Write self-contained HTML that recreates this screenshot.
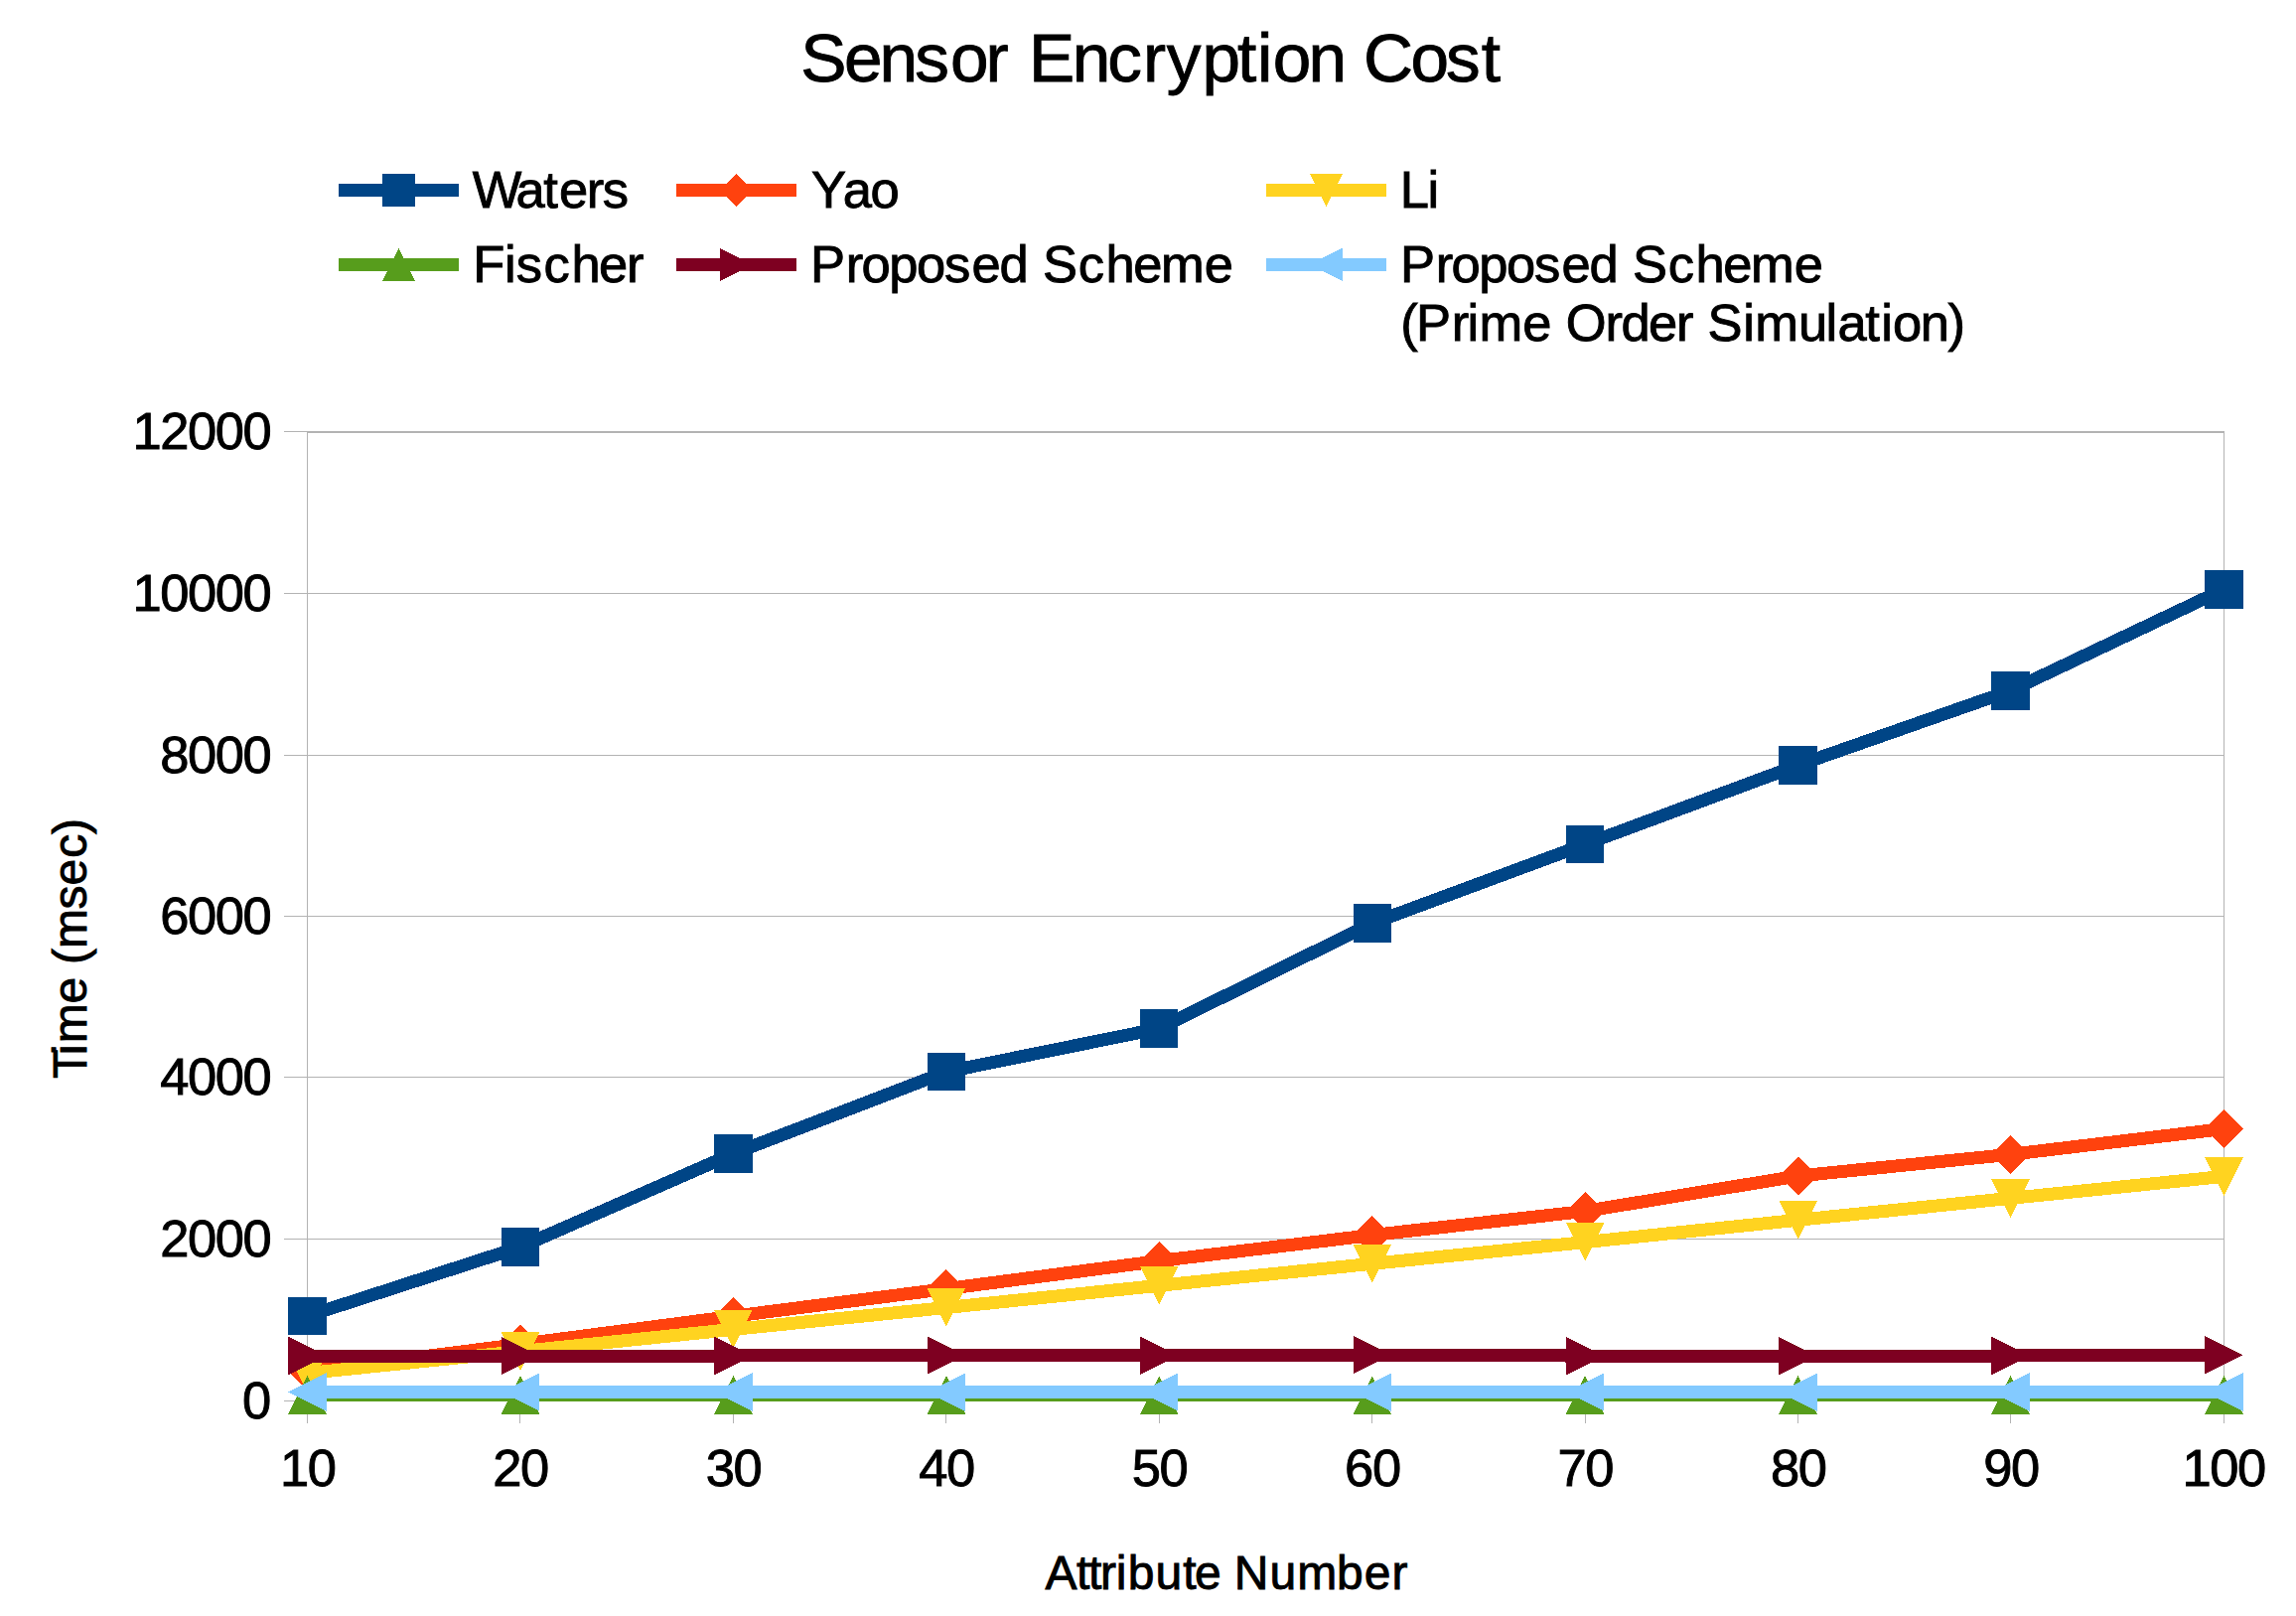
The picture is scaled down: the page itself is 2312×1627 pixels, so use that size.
<!DOCTYPE html>
<html lang="en"><head><meta charset="utf-8"><title>Sensor Encryption Cost</title>
<style>html,body{margin:0;padding:0;background:#fff}body{width:2312px;height:1627px;overflow:hidden}svg{display:block}text{font-family:"Liberation Sans",sans-serif;fill:#000;stroke:#000;stroke-width:0.9px}</style></head><body>
<svg width="2312" height="1627" viewBox="0 0 2312 1627">
<rect width="2312" height="1627" fill="#fff"/>
<g stroke="#b3b3b3" stroke-width="1" fill="none" shape-rendering="crispEdges">
<line x1="286" y1="1410.50" x2="2239.50" y2="1410.50"/>
<line x1="286" y1="1247.50" x2="2239.50" y2="1247.50"/>
<line x1="286" y1="1084.50" x2="2239.50" y2="1084.50"/>
<line x1="286" y1="922.50" x2="2239.50" y2="922.50"/>
<line x1="286" y1="760.50" x2="2239.50" y2="760.50"/>
<line x1="286" y1="597.50" x2="2239.50" y2="597.50"/>
<line x1="286" y1="434.50" x2="2239.50" y2="434.50"/>
<line x1="309.50" y1="435.50" x2="2240.00" y2="435.50"/>
<line x1="309.50" y1="1410.50" x2="309.50" y2="1433"/>
<line x1="523.94" y1="1410.50" x2="523.94" y2="1433"/>
<line x1="738.39" y1="1410.50" x2="738.39" y2="1433"/>
<line x1="952.83" y1="1410.50" x2="952.83" y2="1433"/>
<line x1="1167.28" y1="1410.50" x2="1167.28" y2="1433"/>
<line x1="1381.72" y1="1410.50" x2="1381.72" y2="1433"/>
<line x1="1596.17" y1="1410.50" x2="1596.17" y2="1433"/>
<line x1="1810.61" y1="1410.50" x2="1810.61" y2="1433"/>
<line x1="2024.50" y1="1410.50" x2="2024.50" y2="1433"/>
<line x1="2239.50" y1="1410.50" x2="2239.50" y2="1433"/>
<line x1="309.50" y1="434.50" x2="309.50" y2="1433"/>
<line x1="2239.50" y1="434.50" x2="2239.50" y2="1433"/>
</g>
<g shape-rendering="crispEdges">
<polyline fill="none" stroke="#004586" stroke-width="13.00" stroke-linejoin="round" points="309.50,1325.00 523.94,1255.50 738.39,1161.50 952.83,1079.10 1167.28,1035.50 1381.72,929.50 1596.17,850.10 1810.61,770.40 2024.50,695.40 2239.50,593.30"/>
<polygon fill="#004586" points="290.30,1305.80 328.70,1305.80 328.70,1344.20 290.30,1344.20"/>
<polygon fill="#004586" points="504.74,1236.30 543.14,1236.30 543.14,1274.70 504.74,1274.70"/>
<polygon fill="#004586" points="719.19,1142.30 757.59,1142.30 757.59,1180.70 719.19,1180.70"/>
<polygon fill="#004586" points="933.63,1059.90 972.03,1059.90 972.03,1098.30 933.63,1098.30"/>
<polygon fill="#004586" points="1148.08,1016.30 1186.48,1016.30 1186.48,1054.70 1148.08,1054.70"/>
<polygon fill="#004586" points="1362.52,910.30 1400.92,910.30 1400.92,948.70 1362.52,948.70"/>
<polygon fill="#004586" points="1576.97,830.90 1615.37,830.90 1615.37,869.30 1576.97,869.30"/>
<polygon fill="#004586" points="1791.41,751.20 1829.81,751.20 1829.81,789.60 1791.41,789.60"/>
<polygon fill="#004586" points="2005.30,676.20 2043.70,676.20 2043.70,714.60 2005.30,714.60"/>
<polygon fill="#004586" points="2220.30,574.10 2258.70,574.10 2258.70,612.50 2220.30,612.50"/>
<polyline fill="none" stroke="#ff420e" stroke-width="13.00" stroke-linejoin="round" points="309.50,1380.70 523.94,1353.40 738.39,1325.20 952.83,1297.60 1167.28,1269.50 1381.72,1243.50 1596.17,1219.40 1810.61,1184.00 2024.50,1162.30 2239.50,1136.50"/>
<polygon fill="#ff420e" points="309.50,1361.20 329.00,1380.70 309.50,1400.20 290.00,1380.70"/>
<polygon fill="#ff420e" points="523.94,1333.90 543.44,1353.40 523.94,1372.90 504.44,1353.40"/>
<polygon fill="#ff420e" points="738.39,1305.70 757.89,1325.20 738.39,1344.70 718.89,1325.20"/>
<polygon fill="#ff420e" points="952.83,1278.10 972.33,1297.60 952.83,1317.10 933.33,1297.60"/>
<polygon fill="#ff420e" points="1167.28,1250.00 1186.78,1269.50 1167.28,1289.00 1147.78,1269.50"/>
<polygon fill="#ff420e" points="1381.72,1224.00 1401.22,1243.50 1381.72,1263.00 1362.22,1243.50"/>
<polygon fill="#ff420e" points="1596.17,1199.90 1615.67,1219.40 1596.17,1238.90 1576.67,1219.40"/>
<polygon fill="#ff420e" points="1810.61,1164.50 1830.11,1184.00 1810.61,1203.50 1791.11,1184.00"/>
<polygon fill="#ff420e" points="2024.50,1142.80 2044.00,1162.30 2024.50,1181.80 2005.00,1162.30"/>
<polygon fill="#ff420e" points="2239.50,1117.00 2259.00,1136.50 2239.50,1156.00 2220.00,1136.50"/>
<polyline fill="none" stroke="#ffd320" stroke-width="13.00" stroke-linejoin="round" points="309.50,1382.50 523.94,1360.60 738.39,1338.40 952.83,1316.50 1167.28,1294.30 1381.72,1272.30 1596.17,1250.60 1810.61,1228.30 2024.50,1206.40 2239.50,1184.40"/>
<polygon fill="#ffd320" points="290.30,1363.30 328.70,1363.30 309.50,1401.70"/>
<polygon fill="#ffd320" points="504.74,1341.40 543.14,1341.40 523.94,1379.80"/>
<polygon fill="#ffd320" points="719.19,1319.20 757.59,1319.20 738.39,1357.60"/>
<polygon fill="#ffd320" points="933.63,1297.30 972.03,1297.30 952.83,1335.70"/>
<polygon fill="#ffd320" points="1148.08,1275.10 1186.48,1275.10 1167.28,1313.50"/>
<polygon fill="#ffd320" points="1362.52,1253.10 1400.92,1253.10 1381.72,1291.50"/>
<polygon fill="#ffd320" points="1576.97,1231.40 1615.37,1231.40 1596.17,1269.80"/>
<polygon fill="#ffd320" points="1791.41,1209.10 1829.81,1209.10 1810.61,1247.50"/>
<polygon fill="#ffd320" points="2005.30,1187.20 2043.70,1187.20 2024.50,1225.60"/>
<polygon fill="#ffd320" points="2220.30,1165.20 2258.70,1165.20 2239.50,1203.60"/>
<polyline fill="none" stroke="#579d1c" stroke-width="13.00" stroke-linejoin="round" points="309.50,1404.30 523.94,1404.30 738.39,1404.30 952.83,1404.30 1167.28,1404.30 1381.72,1404.30 1596.17,1404.30 1810.61,1404.30 2024.50,1404.30 2239.50,1404.30"/>
<polygon fill="#579d1c" points="290.30,1423.50 328.70,1423.50 309.50,1385.10"/>
<polygon fill="#579d1c" points="504.74,1423.50 543.14,1423.50 523.94,1385.10"/>
<polygon fill="#579d1c" points="719.19,1423.50 757.59,1423.50 738.39,1385.10"/>
<polygon fill="#579d1c" points="933.63,1423.50 972.03,1423.50 952.83,1385.10"/>
<polygon fill="#579d1c" points="1148.08,1423.50 1186.48,1423.50 1167.28,1385.10"/>
<polygon fill="#579d1c" points="1362.52,1423.50 1400.92,1423.50 1381.72,1385.10"/>
<polygon fill="#579d1c" points="1576.97,1423.50 1615.37,1423.50 1596.17,1385.10"/>
<polygon fill="#579d1c" points="1791.41,1423.50 1829.81,1423.50 1810.61,1385.10"/>
<polygon fill="#579d1c" points="2005.30,1423.50 2043.70,1423.50 2024.50,1385.10"/>
<polygon fill="#579d1c" points="2220.30,1423.50 2258.70,1423.50 2239.50,1385.10"/>
<polyline fill="none" stroke="#7e0021" stroke-width="13.00" stroke-linejoin="round" points="309.50,1365.00 523.94,1365.00 738.39,1365.00 952.83,1364.70 1167.28,1364.70 1381.72,1364.10 1596.17,1365.10 1810.61,1365.20 2024.50,1365.00 2239.50,1364.30"/>
<polygon fill="#7e0021" points="290.30,1345.80 328.70,1365.00 290.30,1384.20"/>
<polygon fill="#7e0021" points="504.74,1345.80 543.14,1365.00 504.74,1384.20"/>
<polygon fill="#7e0021" points="719.19,1345.80 757.59,1365.00 719.19,1384.20"/>
<polygon fill="#7e0021" points="933.63,1345.50 972.03,1364.70 933.63,1383.90"/>
<polygon fill="#7e0021" points="1148.08,1345.50 1186.48,1364.70 1148.08,1383.90"/>
<polygon fill="#7e0021" points="1362.52,1344.90 1400.92,1364.10 1362.52,1383.30"/>
<polygon fill="#7e0021" points="1576.97,1345.90 1615.37,1365.10 1576.97,1384.30"/>
<polygon fill="#7e0021" points="1791.41,1346.00 1829.81,1365.20 1791.41,1384.40"/>
<polygon fill="#7e0021" points="2005.30,1345.80 2043.70,1365.00 2005.30,1384.20"/>
<polygon fill="#7e0021" points="2220.30,1345.10 2258.70,1364.30 2220.30,1383.50"/>
<polyline fill="none" stroke="#83caff" stroke-width="13.00" stroke-linejoin="round" points="309.50,1401.60 523.94,1401.60 738.39,1401.60 952.83,1401.60 1167.28,1401.60 1381.72,1401.60 1596.17,1401.60 1810.61,1401.60 2024.50,1401.60 2239.50,1401.60"/>
<polygon fill="#83caff" points="328.70,1382.40 290.30,1401.60 328.70,1420.80"/>
<polygon fill="#83caff" points="543.14,1382.40 504.74,1401.60 543.14,1420.80"/>
<polygon fill="#83caff" points="757.59,1382.40 719.19,1401.60 757.59,1420.80"/>
<polygon fill="#83caff" points="972.03,1382.40 933.63,1401.60 972.03,1420.80"/>
<polygon fill="#83caff" points="1186.48,1382.40 1148.08,1401.60 1186.48,1420.80"/>
<polygon fill="#83caff" points="1400.92,1382.40 1362.52,1401.60 1400.92,1420.80"/>
<polygon fill="#83caff" points="1615.37,1382.40 1576.97,1401.60 1615.37,1420.80"/>
<polygon fill="#83caff" points="1829.81,1382.40 1791.41,1401.60 1829.81,1420.80"/>
<polygon fill="#83caff" points="2043.70,1382.40 2005.30,1401.60 2043.70,1420.80"/>
<polygon fill="#83caff" points="2258.70,1382.40 2220.30,1401.60 2258.70,1420.80"/>
<line x1="341.00" y1="191.50" x2="462.00" y2="191.50" stroke="#004586" stroke-width="13.00"/>
<polygon fill="#004586" points="385.00,175.00 418.00,175.00 418.00,208.00 385.00,208.00"/>
<line x1="681.00" y1="191.50" x2="802.00" y2="191.50" stroke="#ff420e" stroke-width="13.00"/>
<polygon fill="#ff420e" points="741.50,174.74 758.26,191.50 741.50,208.26 724.74,191.50"/>
<line x1="1275.00" y1="191.50" x2="1395.50" y2="191.50" stroke="#ffd320" stroke-width="13.00"/>
<polygon fill="#ffd320" points="1318.75,175.00 1351.75,175.00 1335.25,208.00"/>
<line x1="341.00" y1="266.30" x2="462.00" y2="266.30" stroke="#579d1c" stroke-width="13.00"/>
<polygon fill="#579d1c" points="385.00,282.80 418.00,282.80 401.50,249.80"/>
<line x1="681.00" y1="266.30" x2="802.00" y2="266.30" stroke="#7e0021" stroke-width="13.00"/>
<polygon fill="#7e0021" points="725.00,249.80 758.00,266.30 725.00,282.80"/>
<line x1="1275.00" y1="266.30" x2="1395.50" y2="266.30" stroke="#83caff" stroke-width="13.00"/>
<polygon fill="#83caff" points="1351.75,249.80 1318.75,266.30 1351.75,282.80"/>
</g>
<text x="806.3 849.9 885.5 921.2 956.9 992.5 1016.3 1036.1 1079.7 1115.3 1151.0 1174.8 1210.4 1246.1 1265.9 1281.7 1317.4 1353.1 1372.9 1420.4 1456.1 1491.7" y="82.40" font-size="69.30">Sensor Encryption Cost</text>
<text x="475.8 519.4 547.2 563.1 590.8 606.7" y="209.30" font-size="52.50">Waters</text>
<text x="817.0 848.7 876.5" y="209.30" font-size="52.50">Yao</text>
<text x="1409.7 1437.5" y="209.30" font-size="52.50">Li</text>
<text x="476.2 507.9 519.8 547.6 575.4 603.1 630.9" y="284.30" font-size="52.50">Fischer</text>
<text x="816.0 851.7 867.6 895.3 923.1 950.9 978.6 1006.4 1034.2 1050.1 1085.8 1113.5 1141.3 1169.1 1212.7" y="284.30" font-size="52.50">Proposed Scheme</text>
<text x="1410.0 1445.7 1461.6 1489.3 1517.1 1544.9 1572.6 1600.4 1628.2 1644.1 1679.8 1707.5 1735.3 1763.1 1806.7" y="284.00" font-size="52.50">Proposed Scheme</text>
<text x="1410.2 1426.1 1461.8 1477.6 1489.5 1533.2 1560.9 1576.8 1616.5 1632.4 1660.1 1687.9 1703.8 1719.6 1755.3 1767.2 1810.9 1838.6 1850.5 1878.3 1894.2 1906.1 1933.8 1961.6" y="342.90" font-size="52.50">(Prime Order Simulation)</text>
<text x="244.0" y="1428.20" font-size="52.50">0</text>
<text x="161.2 189.0 216.7 244.5" y="1265.20" font-size="52.50">2000</text>
<text x="161.2 189.0 216.7 244.5" y="1102.20" font-size="52.50">4000</text>
<text x="161.2 189.0 216.7 244.5" y="940.20" font-size="52.50">6000</text>
<text x="161.2 189.0 216.7 244.5" y="778.20" font-size="52.50">8000</text>
<text x="133.4 161.2 188.9 216.7 244.5" y="615.20" font-size="52.50">10000</text>
<text x="133.4 161.2 188.9 216.7 244.5" y="452.20" font-size="52.50">12000</text>
<text x="281.9 309.7" y="1495.80" font-size="52.50">10</text>
<text x="496.3 524.1" y="1495.80" font-size="52.50">20</text>
<text x="710.8 738.6" y="1495.80" font-size="52.50">30</text>
<text x="925.2 953.0" y="1495.80" font-size="52.50">40</text>
<text x="1139.7 1167.4" y="1495.80" font-size="52.50">50</text>
<text x="1354.1 1381.9" y="1495.80" font-size="52.50">60</text>
<text x="1568.6 1596.3" y="1495.80" font-size="52.50">70</text>
<text x="1783.0 1810.8" y="1495.80" font-size="52.50">80</text>
<text x="1997.3 2025.1" y="1495.80" font-size="52.50">90</text>
<text x="2197.5 2225.3 2253.0" y="1495.80" font-size="52.50">100</text>
<text x="1052.4 1084.1 1096.0 1107.9 1123.8 1135.7 1163.5 1191.2 1203.1 1230.9 1242.8 1278.5 1306.3 1346.0 1373.7 1401.5" y="1600.20" font-size="48.00">Attribute Number</text>
<text x="87.0 110.8 122.7 162.4 190.1 202.0 217.9 257.6 281.4 309.2 333.0" y="1086.00" font-size="48.00" transform="rotate(-90 87.00 1086.00)">Time (msec)</text>
</svg></body></html>
